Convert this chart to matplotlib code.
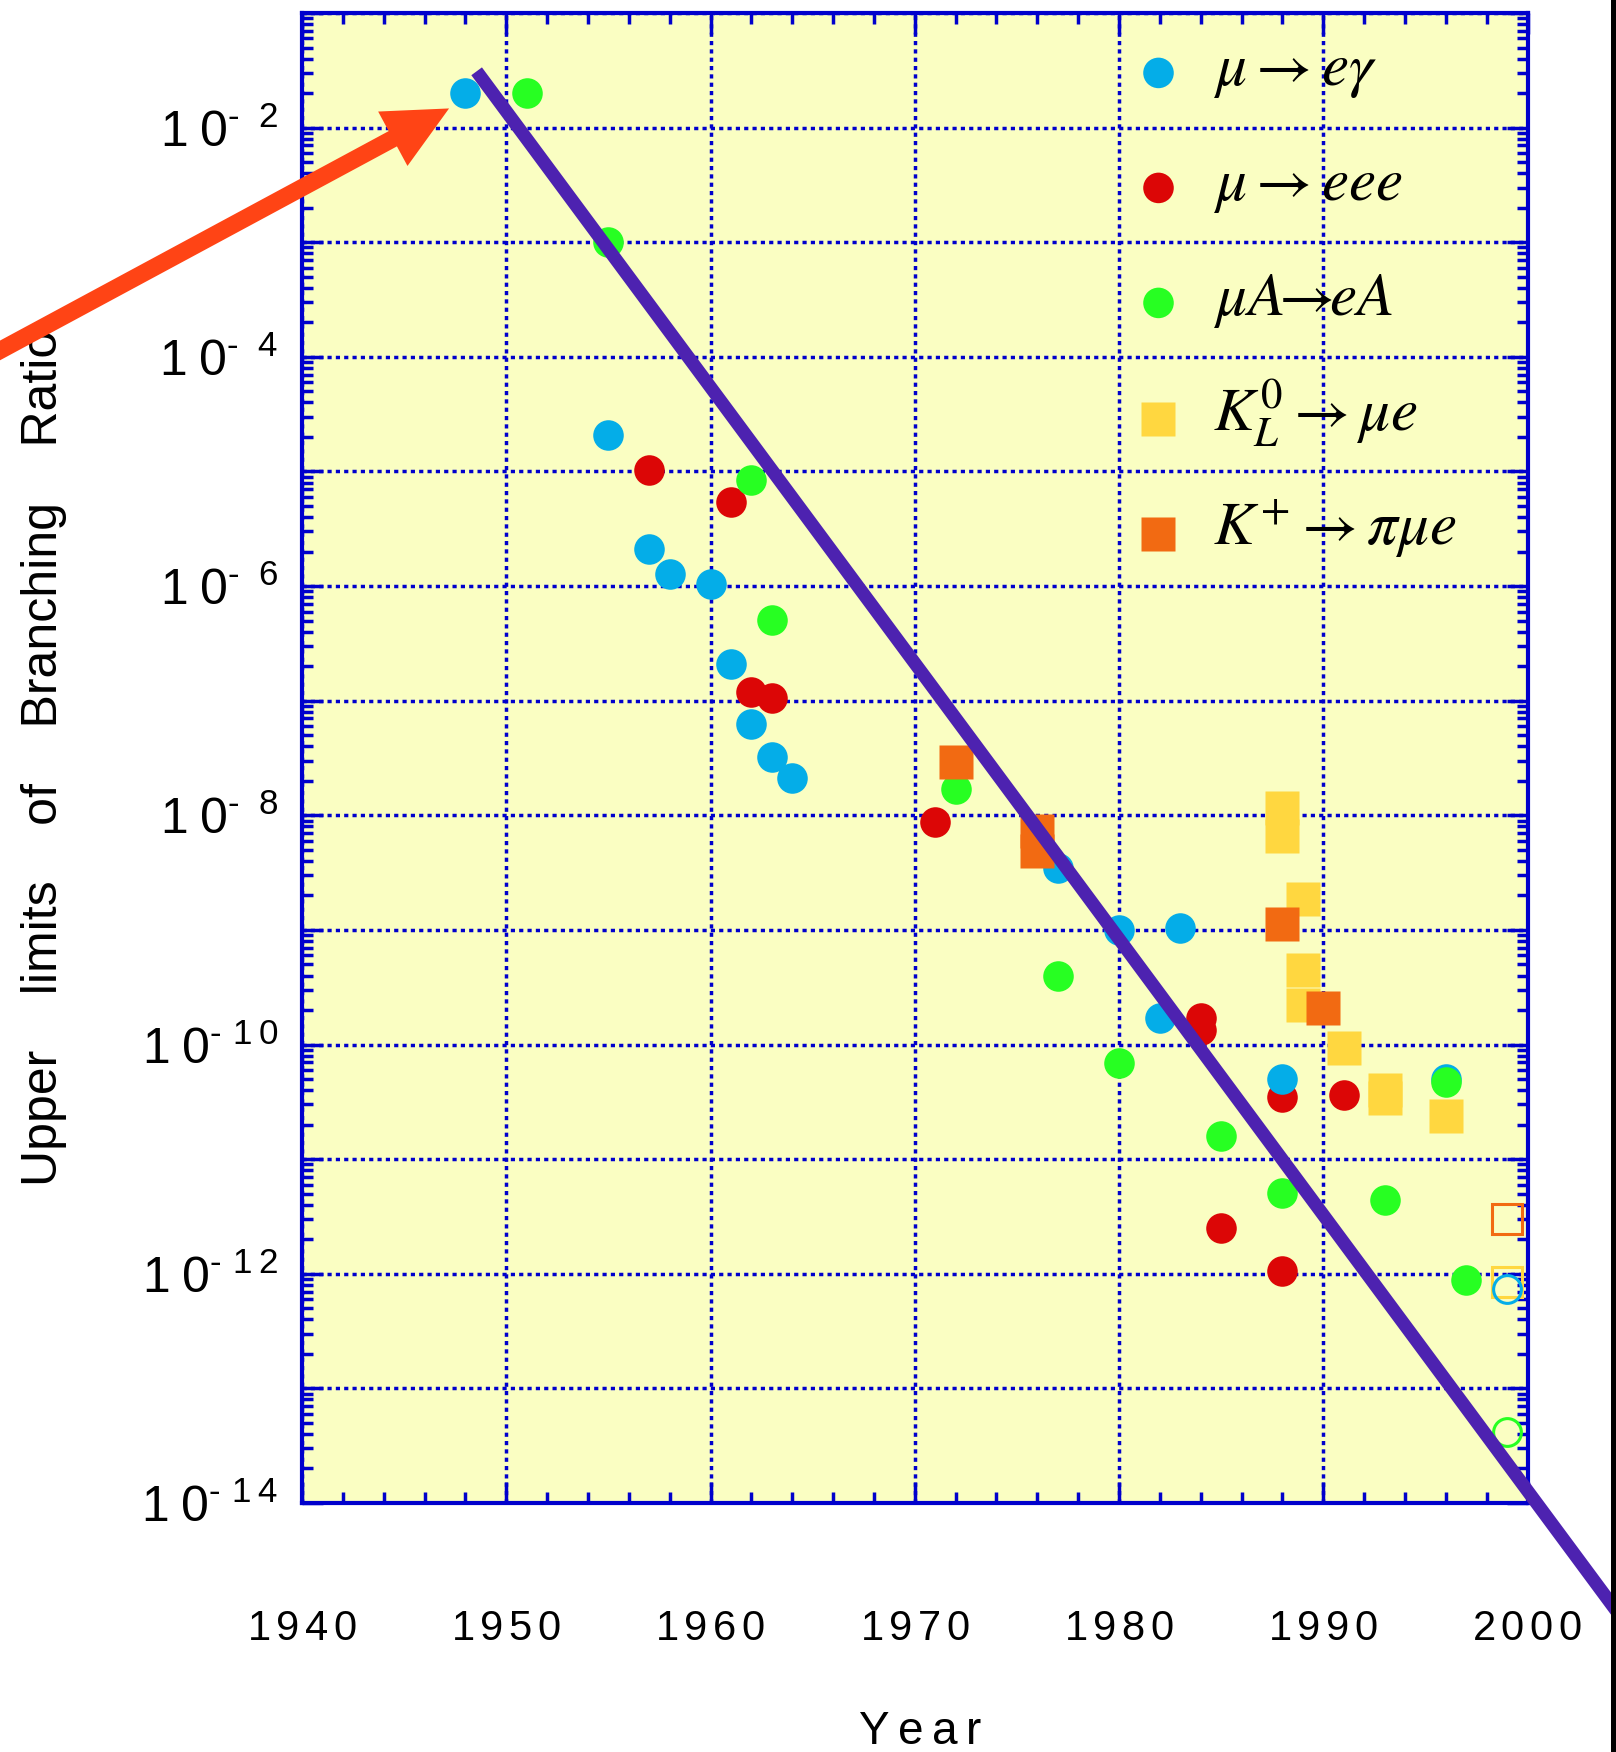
import numpy as np
import matplotlib
matplotlib.use("Agg")
import matplotlib.pyplot as plt
from matplotlib.font_manager import FontProperties
from matplotlib.lines import Line2D
from matplotlib.markers import MarkerStyle
from matplotlib.patches import Rectangle
from matplotlib.ticker import FixedLocator, FuncFormatter, LogLocator, MultipleLocator, NullFormatter
from matplotlib.transforms import Affine2D

plt.rcParams["font.family"] = ["Liberation Sans", "DejaVu Sans"]
plt.rcParams["mathtext.fontset"] = "custom"
plt.rcParams["mathtext.rm"] = "Liberation Sans"
plt.rcParams["mathtext.it"] = "Liberation Sans:italic"
plt.rcParams["mathtext.bf"] = "Liberation Sans:bold"

# mu -> e gamma
meg_years = [1948, 1955, 1957, 1958, 1960, 1961, 1962, 1963, 1964, 1977, 1980, 1982, 1983, 1988, 1996]
meg_limits = [2.0e-2, 2.1e-5, 2.1e-6, 1.27e-6, 1.05e-6, 2.07e-7, 6.2e-8, 3.2e-8, 2.1e-8,
              3.5e-9, 1.0e-9, 1.7e-10, 1.04e-9, 5.0e-11, 5.0e-11]

# mu -> eee
m3e_years = [1957, 1961, 1962, 1963, 1971, 1984, 1984, 1985, 1988, 1988, 1991]
m3e_limits = [1.03e-5, 5.4e-6, 1.2e-7, 1.05e-7, 8.7e-9, 1.7e-10, 1.33e-10, 2.5e-12,
              3.5e-11, 1.06e-12, 3.6e-11]

# mu A -> e A (conversion)
mec_years = [1951, 1955, 1962, 1963, 1972, 1977, 1980, 1985, 1988, 1993, 1996, 1997]
mec_limits = [2.0e-2, 1.0e-3, 8.5e-6, 5.1e-7, 1.7e-8, 4.0e-10, 6.9e-11, 1.6e-11,
              5.1e-12, 4.4e-12, 4.7e-11, 8.8e-13]

# K_L -> mu e
kl_years = [1988, 1988, 1989, 1989, 1989, 1991, 1993, 1993, 1996]
kl_limits = [1.15e-8, 6.6e-9, 1.86e-9, 4.5e-10, 2.2e-10, 9.4e-11, 4.0e-11, 3.4e-11, 2.4e-11]

# K+ -> pi mu e
kp_years = [1972, 1976, 1976, 1988, 1990]
kp_limits = [2.9e-8, 7.3e-9, 4.9e-9, 1.12e-9, 2.1e-10]

# planned sensitivities (open symbols)
goal_year = 1999
goal_meg = 7.4e-13
goal_mec = 4.2e-14
goal_kl = 8.4e-13
goal_kp = 3.0e-12

# overall trend of the limits
trend_years = [1948.55, 2005.0]
trend_limits = [3.1e-2, 8.0e-16]

# arrow pointing at the first measurement
arrow_tip = (1947.2, 1.47e-2)

BLUE = "#04ADE8"
RED = "#DC0606"
GREEN = "#27FF22"
YELLOW = "#FFD740"
ORANGE = "#F26A12"
PURPLE = "#4D22B0"
ARROW = "#FF4415"
FRAME = "#0000CC"
FACE = "#FAFEC2"


def year_label(v, pos):
    return r"$\mathrm{" + r"\,".join(str(int(round(v)))) + "}$"


def decade_label(v, pos):
    e = int(round(np.log10(v)))
    if e % 2:
        return ""
    d = str(-e)
    if len(d) == 1:
        sup = "\u2010\\:\\:\\:" + d
    else:
        sup = "\u2010\\:\\," + d[0] + "\\:" + d[1]
    return r"$\mathrm{1\;0}^{\mathrm{" + sup + "}}$"


fig = plt.figure(figsize=(16.16, 17.52), dpi=100)
ax = fig.add_axes([302 / 1616, 1 - 1503 / 1752, 1225.5 / 1616, 1490 / 1752])
ax.set_facecolor(FACE)
ax.set_yscale("log")
ax.set_xlim(1940, 2000)
ax.set_ylim(1e-14, 1e-1)

ax.xaxis.set_major_locator(MultipleLocator(10))
ax.xaxis.set_minor_locator(MultipleLocator(2))
ax.xaxis.set_major_formatter(FuncFormatter(year_label))
ax.yaxis.set_major_locator(FixedLocator(10.0 ** np.arange(-14, 0)))
ax.yaxis.set_minor_locator(LogLocator(base=10, subs=np.arange(2, 10), numticks=100))
ax.yaxis.set_major_formatter(FuncFormatter(decade_label))
ax.yaxis.set_minor_formatter(NullFormatter())

for sp in ax.spines.values():
    sp.set_color(FRAME)
    sp.set_linewidth(3)
ax.tick_params(which="both", direction="in", top=True, right=True, color=FRAME, width=2.5)
ax.tick_params(which="major", length=15)
ax.tick_params(which="minor", length=8)
ax.tick_params(axis="x", which="major", labelsize=30, pad=76)
ax.tick_params(axis="y", which="major", labelsize=36, pad=17)
ax.grid(True, which="major", color=FRAME, linestyle=(0, (1.2, 1.2)), linewidth=2.5)
ax.set_axisbelow(True)

ax.set_ylabel("Upper    limits    of    Branching    Ratio", fontsize=36)
ax.yaxis.set_label_coords(-0.192, 0.5)
ax.set_xlabel(r"$\mathrm{Y\:e\:a\:r}$", fontsize=33)
ax.xaxis.set_label_coords(0.504, -0.139)

dot = dict(ls="none", marker="o", ms=22, mec="none")
ax.plot(m3e_years, m3e_limits, mfc=RED, **dot)
ax.plot(meg_years, meg_limits, mfc=BLUE, **dot)
ax.plot(mec_years, mec_limits, mfc=GREEN, **dot)
ax.plot(kl_years, kl_limits, ls="none", marker="s", ms=24.5, mfc=YELLOW, mec="none")
ax.plot(kp_years, kp_limits, ls="none", marker="s", ms=25, mfc=ORANGE, mec="none")

ax.plot([goal_year], [goal_kp], ls="none", marker="s", ms=21, mfc="none", mec=ORANGE, mew=2.2)
ax.plot([goal_year], [goal_kl], ls="none", marker="s", ms=21, mfc="none", mec=YELLOW, mew=2.2)
ax.plot([goal_year], [goal_meg], ls="none", marker="o", ms=20, mfc="none", mec=BLUE, mew=2.2)
ax.plot([goal_year], [goal_mec], ls="none", marker="o", ms=20, mfc="none", mec=GREEN, mew=2.2)

ax.plot(trend_years, trend_limits, color=PURPLE, lw=9.5, solid_capstyle="butt",
        clip_on=False, zorder=4)

ax.annotate("", xy=arrow_tip, xycoords="data", xytext=(-0.006, 0.797),
            textcoords="figure fraction", annotation_clip=False, zorder=5,
            arrowprops=dict(arrowstyle="simple,head_length=0.92,head_width=0.89,tail_width=0.25",
                            mutation_scale=50, color=ARROW, lw=0, shrinkA=0, shrinkB=0))

# legend keys sit a little low, next to the x-height of the labels
def key(marker, color, size, shift):
    return Line2D([], [], ls="none", ms=size, mfc=color, mec="none",
                  marker=MarkerStyle(marker, transform=Affine2D().translate(0, -shift)))

handles = [key("o", BLUE, 22, 0.57), key("o", RED, 22, 0.57), key("o", GREEN, 22, 0.57),
           key("s", YELLOW, 24.5, 0.52), key("s", ORANGE, 24.5, 0.52)]
labels = [r"$\mu \rightarrow e\gamma$", r"$\mu \rightarrow eee$",
          r"$\mu A\!\!\rightarrow\!\! eA$", r"$K_L^0 \rightarrow \mu e$",
          r"$K^{+} \rightarrow \pi\mu e$"]
ax.legend(handles, labels, loc="upper left", bbox_to_anchor=(0.682, 0.9917),
          prop=FontProperties(size=44, math_fontfamily="stix"), frameon=False,
          borderpad=0, borderaxespad=0, numpoints=1, handlelength=0.66,
          handleheight=1.6, handletextpad=0.57, labelspacing=0.6)

fig.add_artist(Rectangle((1611 / 1616, 0), 5 / 1616, 1, transform=fig.transFigure,
                         facecolor="black", edgecolor="none"))

fig.savefig("out.png", dpi=100)
